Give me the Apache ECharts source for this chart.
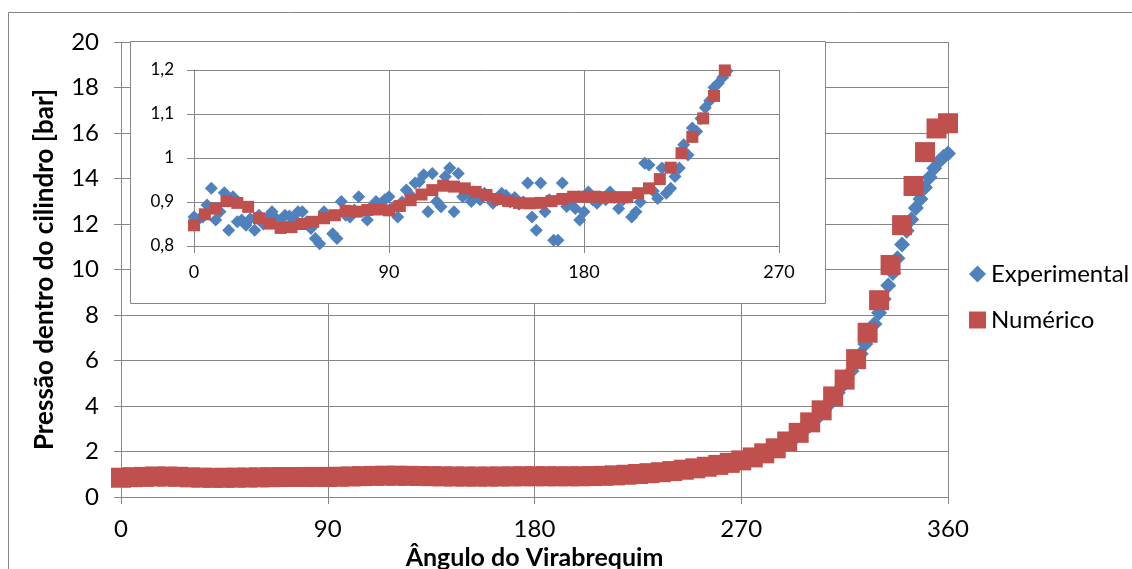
<!DOCTYPE html>
<html>
<head>
<meta charset="utf-8">
<script src="https://cdn.jsdelivr.net/npm/echarts@6/dist/echarts.min.js"></script>
<style>
  html, body { margin: 0; padding: 0; background: #fff; }
  #chart { width: 1132px; height: 569px; }
</style>
</head>
<body>
<div id="chart"></div>
<script>
// angle step of each series (degrees)
const expStep = 2
const numStep = 5

// Experimental, every 2 degrees from 0 to 360
const expValues = [
  0.866, 0.860, 0.866, 0.893, 0.931, 0.859, 0.878, 0.921, 0.836, 0.912,
  0.855, 0.859, 0.847, 0.862, 0.836, 0.870, 0.850, 0.866, 0.878, 0.862,
  0.855, 0.870, 0.868, 0.860, 0.878, 0.878, 0.855, 0.840, 0.817, 0.805,
  0.878, 0.866, 0.828, 0.817, 0.901, 0.870, 0.866, 0.882, 0.912, 0.880,
  0.859, 0.890, 0.901, 0.895, 0.905, 0.912, 0.888, 0.866, 0.900, 0.927,
  0.915, 0.943, 0.946, 0.962, 0.878, 0.965, 0.901, 0.889, 0.958, 0.977,
  0.878, 0.965, 0.912, 0.920, 0.901, 0.915, 0.905, 0.920, 0.910, 0.897,
  0.905, 0.920, 0.915, 0.900, 0.910, 0.895, 0.900, 0.943, 0.866, 0.836,
  0.943, 0.878, 0.905, 0.813, 0.813, 0.943, 0.890, 0.900, 0.885, 0.859,
  0.878, 0.923, 0.905, 0.897, 0.910, 0.905, 0.923, 0.910, 0.885, 0.905,
  0.910, 0.866, 0.878, 0.900, 0.988, 0.984, 0.925, 0.908, 0.977, 0.920,
  0.931, 0.958, 0.977, 1.030, 1.007, 1.068, 1.060, 1.090, 1.114, 1.130,
  1.160, 1.170, 1.183, 1.198, 1.230, 1.260, 1.290, 1.320, 1.350, 1.380,
  1.410, 1.440, 1.470, 1.500, 1.540, 1.580, 1.620, 1.670, 1.720, 1.780,
  1.880, 1.950, 2.040, 2.130, 2.240, 2.360, 2.500, 2.650, 2.810, 2.980,
  3.170, 3.370, 3.580, 3.800, 4.040, 4.300, 4.580, 4.880, 5.200, 5.540,
  5.900, 6.300, 6.720, 7.150, 7.600, 8.100, 8.700, 9.300, 9.850, 10.50,
  11.10, 11.70, 12.20, 12.70, 13.10, 13.60, 14.05, 14.45, 14.75, 14.95,
  15.10, 15.18
]

// Numérico, every 5 degrees from 0 to 360
const numValues = [
  0.847, 0.872, 0.885, 0.902, 0.898, 0.889, 0.863, 0.851, 0.841, 0.843,
  0.850, 0.855, 0.863, 0.870, 0.880, 0.878, 0.882, 0.883, 0.881, 0.891,
  0.904, 0.917, 0.927, 0.937, 0.935, 0.931, 0.923, 0.916, 0.907, 0.902,
  0.898, 0.897, 0.898, 0.902, 0.907, 0.912, 0.912, 0.912, 0.911, 0.911,
  0.911, 0.920, 0.931, 0.952, 0.978, 1.011, 1.048, 1.090, 1.141, 1.199,
  1.26, 1.33, 1.41, 1.50, 1.61, 1.74, 1.92, 2.14, 2.44, 2.82,
  3.28, 3.81, 4.42, 5.16, 6.06, 7.22, 8.65, 10.2, 11.95, 13.67,
  15.16, 16.2, 16.43
]

const expPoints = expValues.map((v, i) => [i * expStep, v])
const numPoints = numValues.map((v, i) => [i * numStep, v])

const gridColor = '#868686'
const blue = '#4F81BD'
const red = '#C0504D'
const font = 'Lato'

let chart = echarts.init(document.getElementById('chart'), null, { renderer: 'canvas' })

let axisCommon = (fontSize, margin) => ({
  axisLine: { show: true, lineStyle: { color: gridColor, width: 1 } },
  axisTick: { show: true, length: 7, lineStyle: { color: gridColor } },
  splitLine: { show: true, lineStyle: { color: gridColor, width: 1 } },
  axisLabel: { color: '#000', fontFamily: font, fontSize: fontSize, margin: margin }
})

const option = {
  animation: false,
  backgroundColor: '#fff',
  graphic: [
    {
      type: 'rect', z: -10,
      shape: { x: 8.5, y: 12.5, width: 1400, height: 800 },
      style: { fill: '#fff', stroke: gridColor, lineWidth: 1 }
    },
    {
      type: 'rect', z: 1,
      shape: { x: 130.5, y: 41.5, width: 695, height: 262 },
      style: { fill: '#fff', stroke: gridColor, lineWidth: 1 }
    }
  ],
  legend: {
    orient: 'vertical',
    left: 964,
    top: 256,
    itemWidth: 17,
    itemHeight: 17,
    itemGap: 20,
    textStyle: { fontFamily: font, fontSize: 24, color: '#000', lineHeight: 26 },
    data: [
      { name: 'Experimental', icon: 'diamond' },
      { name: 'Numérico', icon: 'rect' }
    ]
  },
  grid: [
    { left: 121, top: 42, width: 827, height: 455, outerBoundsMode: 'none' },
    { left: 194, top: 70, width: 585, height: 176, outerBoundsMode: 'none' }
  ],
  xAxis: [
    Object.assign(axisCommon(24, 20), {
      gridIndex: 0, type: 'value', min: 0, max: 360, interval: 90, z: 0,
      name: 'Ângulo do Virabrequim', nameLocation: 'middle', nameGap: 48,
      nameTextStyle: { fontFamily: font, fontSize: 25, fontWeight: 'bold', color: '#000' }
    }),
    Object.assign(axisCommon(18, 17), {
      gridIndex: 1, type: 'value', min: 0, max: 270, interval: 90, z: 3
    })
  ],
  yAxis: [
    Object.assign(axisCommon(24, 22), {
      gridIndex: 0, type: 'value', min: 0, max: 20, interval: 2, z: 0,
      name: 'Pressão dentro do cilindro [bar]', nameLocation: 'middle', nameGap: 63,
      nameTextStyle: { fontFamily: font, fontSize: 26, fontWeight: 'bold', color: '#000' }
    }),
    (() => {
      let a = Object.assign(axisCommon(17, 20), {
        gridIndex: 1, type: 'value', min: 0.8, max: 1.2, interval: 0.1, z: 3
      })
      a.axisLabel.formatter = (v) => String(Math.round(v * 10) / 10).replace('.', ',')
      return a
    })()
  ],
  series: [
    {
      name: 'Experimental', type: 'scatter', xAxisIndex: 0, yAxisIndex: 0,
      symbol: 'diamond', symbolSize: 16, itemStyle: { color: blue, opacity: 1 }, z: 2,
      data: expPoints
    },
    {
      name: 'Numérico', type: 'scatter', xAxisIndex: 0, yAxisIndex: 0,
      symbol: 'rect', symbolSize: 20, itemStyle: { color: red, opacity: 1 }, z: 2,
      data: numPoints
    },
    {
      name: 'Experimental', type: 'scatter', xAxisIndex: 1, yAxisIndex: 1,
      symbol: 'diamond', symbolSize: 13, itemStyle: { color: blue, opacity: 1 }, z: 4, clip: true,
      data: expPoints
    },
    {
      name: 'Numérico', type: 'scatter', xAxisIndex: 1, yAxisIndex: 1,
      symbol: 'rect', symbolSize: 12, itemStyle: { color: red, opacity: 1 }, z: 4, clip: true,
      data: numPoints
    }
  ]
}

chart.setOption(option)
</script>
</body>
</html>
